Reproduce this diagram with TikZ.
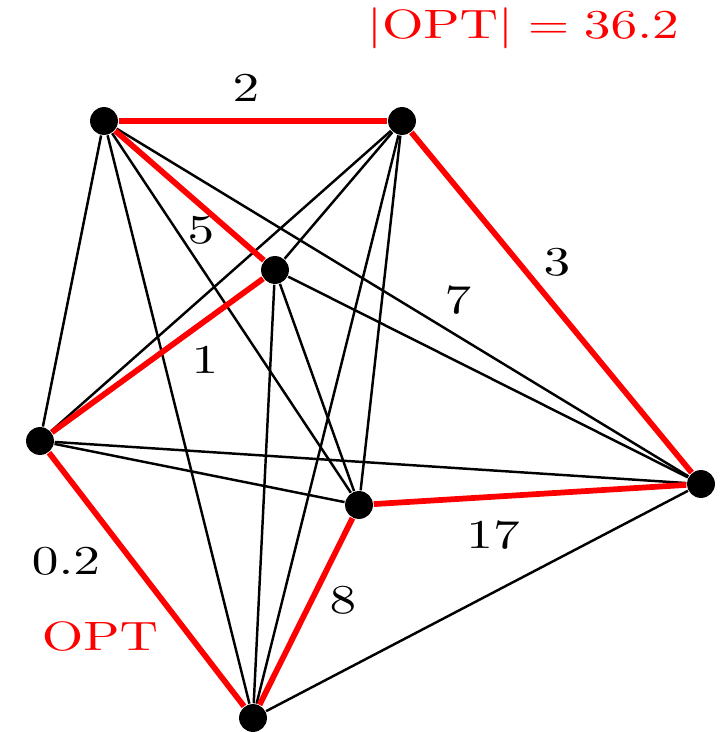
\documentclass[tikz,border=0pt]{standalone}
\usepackage{tikz}
\begin{document}
\begin{tikzpicture}[
  x=0.244pt, y=-0.244pt,
  vtx/.style={circle,fill=black,inner sep=0pt,minimum size=6.8pt},
  blk/.style={black,line width=0.6pt},
  tour/.style={red,line width=1.4pt},
  lbl/.style={font=\normalsize,xscale=1.3,inner sep=0pt}
]
  \useasboundingbox (0,0) rectangle (725,732);
  \node[vtx] (a) at (104,121) {};
  \node[vtx] (b) at (402,121) {};
  \node[vtx] (c) at (275,270) {};
  \node[vtx] (d) at (40,441) {};
  \node[vtx] (e) at (359,505) {};
  \node[vtx] (f) at (701,484) {};
  \node[vtx] (g) at (253,718) {};
  % remaining edges of the complete graph
  \foreach \u/\v in {a/d,a/g,a/e,a/f,b/c,b/d,b/e,b/g,c/e,c/g,c/f,d/e,d/f,f/g}
    \draw[blk] (\u) -- (\v);
  % optimal tour
  \foreach \u/\v in {a/b,b/f,f/e,e/g,g/d,d/c,c/a}
    \draw[tour] (\u) -- (\v);
  \node[lbl] (wab) at (246,88) {$2$};
  \node[lbl] (wca) at (201,230) {$5$};
  \node[lbl] (wbf) at (557,262) {$3$};
  \node[lbl] (waf) at (458,300) {$7$};
  \node[lbl] (wdc) at (205,360) {$1$};
  \node[lbl] (wgd) at (66,561) {$0.2$};
  \node[lbl] (wfe) at (493,535) {$17$};
  \node[lbl] (weg) at (343,600) {$8$};
  \node[lbl,text=red] (opt) at (100,636) {$\mathrm{OPT}$};
  \node[lbl,text=red] (cost) at (523,28) {$|\mathrm{OPT}| = 36.2$};
\end{tikzpicture}
\end{document}
